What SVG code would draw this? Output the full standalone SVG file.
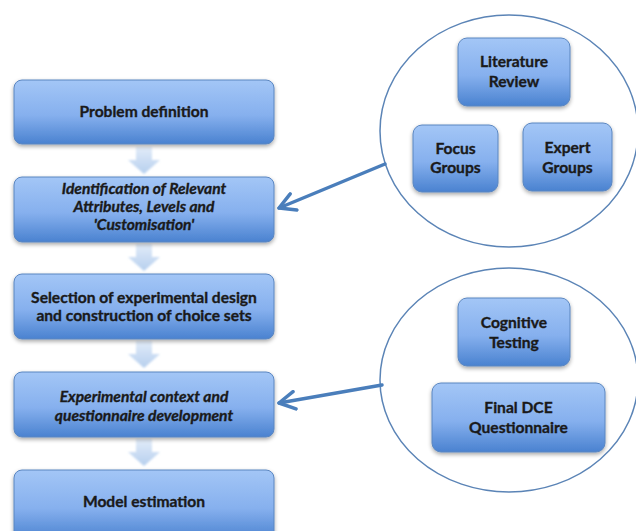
<svg xmlns="http://www.w3.org/2000/svg" width="636" height="531" viewBox="0 0 636 531">
<defs>
<linearGradient id="boxg" x1="0" y1="0" x2="0" y2="1">
<stop offset="0" stop-color="#a3c6f6"/>
<stop offset="0.55" stop-color="#86b0ee"/>
<stop offset="1" stop-color="#4a82d0"/>
</linearGradient>
<linearGradient id="downg" x1="0" y1="0" x2="0" y2="1">
<stop offset="0" stop-color="#e2ecf9"/>
<stop offset="1" stop-color="#b6cfee"/>
</linearGradient>
<filter id="sh" x="-10%" y="-10%" width="120%" height="130%">
<feGaussianBlur in="SourceAlpha" stdDeviation="2"/>
<feOffset dx="0" dy="2" result="b"/>
<feComponentTransfer><feFuncA type="linear" slope="0.35"/></feComponentTransfer>
<feMerge><feMergeNode/><feMergeNode in="SourceGraphic"/></feMerge>
</filter>
<filter id="blur"><feGaussianBlur stdDeviation="1"/></filter>
<marker id="ah" viewBox="0 0 12 12" refX="10" refY="6" markerWidth="6" markerHeight="6" orient="auto" markerUnits="strokeWidth">
<path d="M1,1 L10,6 L1,11" fill="none" stroke="#4a7ebb" stroke-width="2" stroke-linecap="round" stroke-linejoin="round"/>
</marker>
</defs>
<style>
.box{fill:url(#boxg);stroke:#5a86c0;stroke-width:1;filter:url(#sh)}
.t{font-family:Lato,"Liberation Sans",sans-serif;font-weight:bold;font-size:15.6px;fill:#1a1a1a;stroke:#1a1a1a;stroke-width:0.35;text-anchor:middle}
.i{font-style:italic}
.circ{fill:#fff;stroke:#5b84b6;stroke-width:1.5}
.down{fill:url(#downg);stroke:none;filter:url(#blur)}
.conn{stroke:#4a7ebb;stroke-width:3.5;fill:none;stroke-linecap:round;marker-end:url(#ah)}
</style>
<rect width="636" height="531" fill="#fff"/>
<g id="circle1"><ellipse class="circ" cx="509" cy="131" rx="129" ry="116"/></g>
<g id="circle2"><ellipse class="circ" cx="509" cy="380" rx="129" ry="112"/></g>
<g id="downarrows">
<path class="down" d="M136,147 H152 V160 H160 L144,174 L128,160 H136 Z"/>
<path class="down" d="M136,244 H152 V257 H160 L144,271 L128,257 H136 Z"/>
<path class="down" d="M136,341 H152 V354 H160 L144,368 L128,354 H136 Z"/>
<path class="down" d="M136,439 H152 V452 H160 L144,466 L128,452 H136 Z"/>
</g>
<g id="n1"><rect class="box" x="14" y="80" width="260" height="64" rx="8"/><text class="t" x="144" y="117">Problem definition</text></g>
<g id="n2"><rect class="box" x="14" y="177" width="260" height="65" rx="8"/><text class="t i" x="144" y="194">Identification of Relevant</text><text class="t i" x="144" y="212">Attributes, Levels and</text><text class="t i" x="144" y="230">'Customisation'</text></g>
<g id="n3"><rect class="box" x="14" y="274" width="260" height="65" rx="8"/><text class="t" x="144" y="303">Selection of experimental design</text><text class="t" x="144" y="321">and construction of choice sets</text></g>
<g id="n4"><rect class="box" x="14" y="372" width="260" height="65" rx="8"/><text class="t i" x="144" y="402">Experimental context and</text><text class="t i" x="144" y="421">questionnaire development</text></g>
<g id="n5"><rect class="box" x="14" y="470" width="260" height="70" rx="8"/><text class="t" x="144" y="507">Model estimation</text></g>
<g id="lit"><rect class="box" x="458" y="38" width="112" height="68" rx="9"/><text class="t" x="514" y="67">Literature</text><text class="t" x="514" y="87">Review</text></g>
<g id="focus"><rect class="box" x="413" y="125" width="85" height="67" rx="9"/><text class="t" x="455.5" y="154">Focus</text><text class="t" x="455.5" y="173">Groups</text></g>
<g id="expert"><rect class="box" x="523" y="123" width="89" height="68" rx="9"/><text class="t" x="567.5" y="153">Expert</text><text class="t" x="567.5" y="173">Groups</text></g>
<g id="cog"><rect class="box" x="458" y="298" width="112" height="68" rx="9"/><text class="t" x="514" y="328">Cognitive</text><text class="t" x="514" y="348">Testing</text></g>
<g id="final"><rect class="box" x="432" y="383" width="173" height="69" rx="9"/><text class="t" x="518.5" y="413">Final DCE</text><text class="t" x="518.5" y="433">Questionnaire</text></g>
<g id="connectors">
<line class="conn" x1="385" y1="164" x2="279" y2="208"/>
<line class="conn" x1="382" y1="385" x2="279" y2="403"/>
</g>
</svg>
